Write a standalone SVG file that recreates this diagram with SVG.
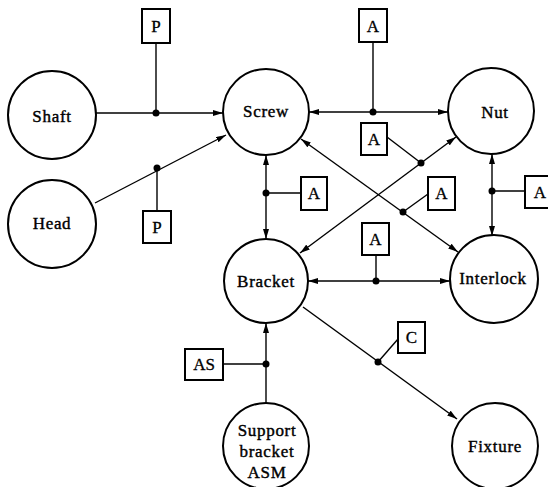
<svg xmlns="http://www.w3.org/2000/svg" width="548" height="487" viewBox="0 0 548 487">
<defs>
<marker id="arr" viewBox="0 0 10 6" refX="10" refY="3" markerWidth="10" markerHeight="6" markerUnits="userSpaceOnUse" orient="auto-start-reverse">
<path d="M0,0 L10,3 L0,6 Z" fill="#000"/>
</marker>
</defs>
<style>
.node circle{fill:#fff;stroke:#000;stroke-width:2}
.node text{font-family:"Liberation Serif","DejaVu Serif",serif;font-size:17px;letter-spacing:0.7px;text-anchor:middle;fill:#000;stroke:#000;stroke-width:0.4}
.box rect{fill:#fff;stroke:#000;stroke-width:2}
.box text{font-family:"Liberation Serif","DejaVu Serif",serif;font-size:17px;text-anchor:middle;fill:#000;stroke:#000;stroke-width:0.3}
.edges line{stroke:#000;stroke-width:1.4}
.edges circle{fill:#000}
</style>
<rect width="548" height="487" fill="#fff"/>
<g id="connectors" class="edges">
<line x1="96" y1="113" x2="223" y2="113" marker-end="url(#arr)"/>
<line x1="156" y1="43" x2="156" y2="113"/>
<circle cx="156" cy="113" r="3.5"/>
<line x1="95" y1="203" x2="226" y2="135" marker-end="url(#arr)"/>
<line x1="157" y1="168" x2="157" y2="211"/>
<circle cx="157" cy="168" r="3.5"/>
<line x1="309" y1="112" x2="448" y2="112" marker-start="url(#arr)" marker-end="url(#arr)"/>
<line x1="373" y1="42" x2="373" y2="112"/>
<circle cx="373" cy="112" r="3.5"/>
<line x1="266" y1="155" x2="266" y2="239" marker-start="url(#arr)" marker-end="url(#arr)"/>
<line x1="266" y1="193" x2="301" y2="193"/>
<circle cx="266" cy="193" r="3.5"/>
<line x1="456" y1="137" x2="300" y2="253" marker-start="url(#arr)" marker-end="url(#arr)"/>
<line x1="387" y1="137" x2="421" y2="163"/>
<circle cx="421" cy="163" r="3.5"/>
<line x1="301" y1="139" x2="458" y2="252" marker-start="url(#arr)" marker-end="url(#arr)"/>
<line x1="403" y1="212" x2="428" y2="194"/>
<circle cx="403" cy="212" r="3.5"/>
<line x1="492" y1="154" x2="492" y2="236" marker-start="url(#arr)" marker-end="url(#arr)"/>
<line x1="492" y1="191" x2="525" y2="191"/>
<circle cx="492" cy="191" r="3.5"/>
<line x1="308" y1="281" x2="450" y2="281" marker-start="url(#arr)" marker-end="url(#arr)"/>
<line x1="376" y1="255" x2="376" y2="281"/>
<circle cx="376" cy="281" r="3.5"/>
<line x1="303" y1="307" x2="457" y2="419" marker-end="url(#arr)"/>
<line x1="378" y1="362" x2="398" y2="339"/>
<circle cx="378" cy="362" r="3.5"/>
<line x1="266" y1="403" x2="266" y2="323" marker-end="url(#arr)"/>
<line x1="223" y1="364" x2="266" y2="364"/>
<circle cx="266" cy="364" r="3.5"/>
</g>
<g id="shaft" class="node"><circle cx="52" cy="115" r="44"/><text x="52" y="122">Shaft</text></g>
<g id="head" class="node"><circle cx="52" cy="224" r="44"/><text x="52" y="229">Head</text></g>
<g id="screw" class="node"><circle cx="266" cy="112" r="43"/><text x="266" y="117">Screw</text></g>
<g id="nut" class="node"><circle cx="491" cy="111" r="43"/><text x="495" y="118">Nut</text></g>
<g id="bracket" class="node"><circle cx="266" cy="281" r="42"/><text x="266" y="287">Bracket</text></g>
<g id="interlock" class="node"><circle cx="494" cy="279" r="44"/><text x="493" y="284">Interlock</text></g>
<g id="fixture" class="node"><circle cx="495" cy="446" r="43"/><text x="495" y="452">Fixture</text></g>
<g id="support" class="node"><circle cx="266" cy="446" r="43"/><text x="267" y="436">Support</text><text x="267" y="457">bracket</text><text x="267" y="478">ASM</text></g>
<g id="box-p1" class="box"><rect x="142" y="9" width="28" height="34"/><text x="156" y="32">P</text></g>
<g id="box-p2" class="box"><rect x="143" y="211" width="28" height="32"/><text x="157" y="233">P</text></g>
<g id="box-a1" class="box"><rect x="359" y="9" width="28" height="33"/><text x="373" y="32">A</text></g>
<g id="box-a2" class="box"><rect x="361" y="123" width="26" height="32"/><text x="374" y="145">A</text></g>
<g id="box-a3" class="box"><rect x="301" y="177" width="26" height="33"/><text x="314" y="199">A</text></g>
<g id="box-a4" class="box"><rect x="428" y="177" width="27" height="33"/><text x="441.5" y="199">A</text></g>
<g id="box-a5" class="box"><rect x="525" y="176" width="30" height="32"/><text x="540" y="198">A</text></g>
<g id="box-a6" class="box"><rect x="362" y="223" width="27" height="32"/><text x="375.5" y="245">A</text></g>
<g id="box-c" class="box"><rect x="398" y="322" width="27" height="31"/><text x="411.5" y="343">C</text></g>
<g id="box-as" class="box"><rect x="185" y="349" width="38" height="31"/><text x="204" y="370">AS</text></g>
</svg>
